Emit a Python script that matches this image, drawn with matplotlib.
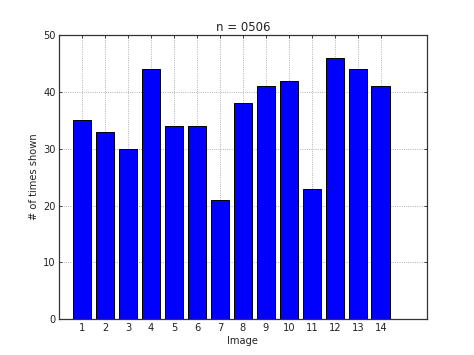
import matplotlib
matplotlib.use('Agg')
import matplotlib.pyplot as plt

# =============================================================================
# Times each image was shown
# =============================================================================
IMAGES = list(range(1, 15))
COUNTS = [35, 33, 30, 44, 34, 34, 21, 38, 41, 42, 23, 46, 44, 41]
TITLE = 'n = 0506'

plt.rcParams['font.family'] = 'DejaVu Sans'
plt.rcParams['font.size'] = 7.1

fig = plt.figure(figsize=(4.74, 3.55), dpi=100, facecolor='white')
ax = fig.add_axes([0.125, 0.101, 0.775, 0.8])

ax.bar(IMAGES, COUNTS, width=0.8, align='center',
       color='#0000ff', edgecolor='black', linewidth=0.7, zorder=2)

ax.set_xlim(0, 16)
ax.set_ylim(0, 50)
ax.set_xticks(IMAGES)
ax.set_yticks(range(0, 51, 10))
ax.tick_params(direction='in', length=2.4, width=0.5, color='black',
               top=True, right=True, pad=2.6, labelsize=7.1, labelcolor='#222222')
ax.grid(True, linestyle=':', color='#999999', linewidth=0.6, zorder=0)
for side in ax.spines.values():
    side.set_linewidth(0.9)
    side.set_color('#333333')

ax.set_title(TITLE, fontsize=8.5, pad=3.2, color='#222222')
ax.set_xlabel('Image', fontsize=7.1, labelpad=2.4, color='#222222')
ax.set_ylabel('# of times shown', fontsize=7.1, labelpad=2.6, color='#222222')

fig.savefig('out.png', dpi=100, facecolor='white')
